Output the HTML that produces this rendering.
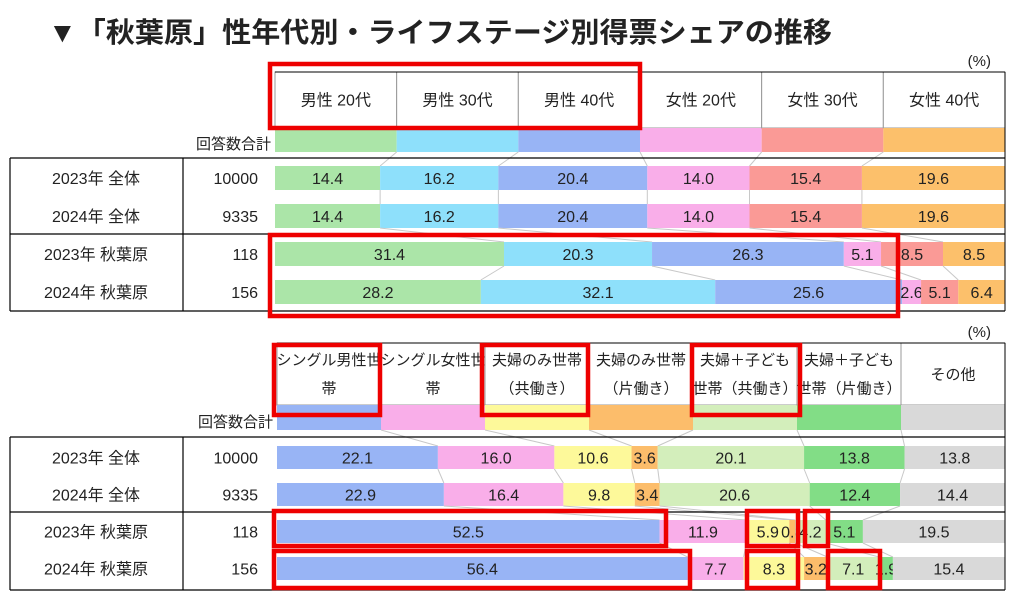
<!DOCTYPE html>
<html><head><meta charset="utf-8"><style>
html,body{margin:0;padding:0;background:#fff;}
svg{display:block;font-family:"Liberation Sans","Noto Sans CJK JP",sans-serif;}
</style></head><body>
<svg id="chart" width="1015" height="604" viewBox="0 0 1015 604" xmlns="http://www.w3.org/2000/svg">
<text x="48" y="42" font-size="28" font-weight="bold" fill="#222" textLength="784" lengthAdjust="spacingAndGlyphs">▼「秋葉原」性年代別・ライフステージ別得票シェアの推移</text>
<g id="g"></g>
</svg>
<script>
const topCats = ["男性 20代","男性 30代","男性 40代","女性 20代","女性 30代","女性 40代"];
const topColors = ["#abe5a8","#8ee0fb","#98b4f5","#f9aee9","#fa9a96","#fcc06b"];
const rowLabels = ["2023年 全体","2024年 全体","2023年 秋葉原","2024年 秋葉原"];
const topCounts = ["10000","9335","118","156"];
const topRow1 = [14.4,16.2,20.4,14.0,15.4,19.6];
const topRow2 = [14.4,16.2,20.4,14.0,15.4,19.6];
const topRow3 = [31.4,20.3,26.3,5.1,8.5,8.5];
const topRow4 = [28.2,32.1,25.6,2.6,5.1,6.4];
const botCats = [["シングル男性世","帯"],["シングル女性世","帯"],["夫婦のみ世帯","（共働き）"],["夫婦のみ世帯","（片働き）"],["夫婦＋子ども","世帯（共働き）"],["夫婦＋子ども","世帯（片働き）"],["その他"]];
const botColors = ["#98b4f5","#f9aee9","#fdf99a","#fcbd6b","#d3eebb","#82dd86","#d9d9d9"];
const botCounts = ["10000","9335","118","156"];
const botRow1 = [22.1,16.0,10.6,3.6,20.1,13.8,13.8];
const botRow2 = [22.9,16.4,9.8,3.4,20.6,12.4,14.4];
const botRow3 = [52.5,11.9,5.9,0.8,4.2,5.1,19.5];
const botRow4 = [56.4,7.7,8.3,3.2,7.1,1.9,15.4];

const NS="http://www.w3.org/2000/svg";
const G=document.getElementById('g');
function mk(tag,attrs,txt){const e=document.createElementNS(NS,tag);for(const k in attrs)e.setAttribute(k,attrs[k]);if(txt!==undefined)e.textContent=txt;G.appendChild(e);return e;}

function drawPanel(cfg){
  const {x0,x1,cats,colors,rows,counts,hdrTop,hdrBot,stripBot,rowY,rowH,lines,prefix,hdrFont}=cfg;
  const n=cats.length, cw=(x1-x0)/n;
  for(let i=0;i<n;i++){
    const c=mk('rect',{x:x0+i*cw,y:hdrTop,width:cw,height:hdrBot-hdrTop,fill:'#fff',stroke:'#999','stroke-width':1});
    
    
    const lbl=Array.isArray(cats[i])?cats[i]:[cats[i]];
    const mid=(hdrTop+hdrBot)/2;
    lbl.forEach((s,j)=>{
      const t=mk('text',{x:x0+i*cw+cw/2,y:mid+hdrFont*0.35+(j-(lbl.length-1)/2)*hdrFont*1.9,'font-size':hdrFont,'text-anchor':'middle',fill:'#222'},s);
      
      
    });
    const s=mk('rect',{x:x0+i*cw,y:hdrBot,width:cw,height:stripBot-hdrBot,fill:colors[i]});
    
    
  }
  mk('line',{x1:x0,y1:hdrTop,x2:x1,y2:hdrTop,stroke:'#000','stroke-width':1});
  const la=mk('text',{x:x0-4,y:stripBot-3,'font-size':15,'text-anchor':'end',fill:'#222'},'回答数合計');
  
  
  const pc=mk('text',{x:x1-14,y:hdrTop-6,'font-size':15,'text-anchor':'end',fill:'#222'},'(%)');
  
  
  let prevEdges=[];for(let i=0;i<=n;i++)prevEdges.push(x0+i*cw);
  let prevY=stripBot;
  rows.forEach((vals,r)=>{
    const tot=vals.reduce((a,b)=>a+b,0);
    const edges=[x0];let acc=0;
    vals.forEach(v=>{acc+=v;edges.push(x0+(x1-x0)*acc/tot);});
    const y=rowY[r];
    for(let i=1;i<n;i++){
      mk('line',{x1:prevEdges[i],y1:prevY,x2:edges[i],y2:y,stroke:'#c8c8c8','stroke-width':1});
    }
    vals.forEach((v,i)=>{
      const b=mk('rect',{x:edges[i],y:y,width:edges[i+1]-edges[i],height:rowH,fill:colors[i]});
      
      
      const t=mk('text',{x:(edges[i]+edges[i+1])/2,y:y+rowH/2+6,'font-size':16,'text-anchor':'middle',fill:'#222'},v.toFixed(1));
      
      
    });
    const rl=mk('text',{x:96,y:y+rowH/2+6,'font-size':16,'text-anchor':'middle',fill:'#222'},rowLabels[r]);
    
    
    const ct=mk('text',{x:258,y:y+rowH/2+6,'font-size':16,'text-anchor':'end',fill:'#222'},counts[r]);
    
    
    prevEdges=edges;prevY=y+rowH;
  });
  lines.forEach(ly=>mk('line',{x1:10,y1:ly,x2:1005,y2:ly,stroke:'#000','stroke-width':1.2}));
  mk('line',{x1:10,y1:lines[0],x2:10,y2:lines[2],stroke:'#000','stroke-width':1.2});
  mk('line',{x1:183,y1:lines[0],x2:183,y2:lines[2],stroke:'#000','stroke-width':1.2});
  mk('line',{x1:1005,y1:hdrTop,x2:1005,y2:lines[2],stroke:'#000','stroke-width':1});
}
drawPanel({x0:275,x1:1005,cats:topCats,colors:topColors,rows:[topRow1,topRow2,topRow3,topRow4],counts:topCounts,
  hdrTop:72,hdrBot:128,stripBot:152,rowY:[166,204,242,280],rowH:24,lines:[158,234,311],prefix:'top',hdrFont:16});
drawPanel({x0:277,x1:1005,cats:botCats,colors:botColors,rows:[botRow1,botRow2,botRow3,botRow4],counts:botCounts,
  hdrTop:343,hdrBot:405,stripBot:430,rowY:[446,483,520,557],rowH:23,lines:[437,512,590],prefix:'bottom',hdrFont:15});
const boxes=[[268,62,642,130],[268,233,900,318],[272,343,382,417],[480,343,590,417],[690,343,802,417],[272,509,668,548],[272,549,692,590],[745,509,800,548],[745,549,800,590],[803,509,830,548],[826,549,882,590]];
boxes.forEach(b=>{
  const r=mk('rect',{x:b[0]+2,y:b[1]+2,width:b[2]-b[0]-4,height:b[3]-b[1]-4,fill:'none',stroke:'#ee0000','stroke-width':4.5});
  
  
});
</script>
</body></html>
